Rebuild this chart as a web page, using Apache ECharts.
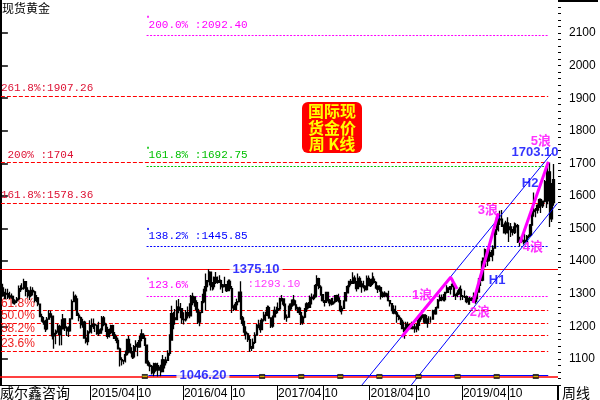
<!DOCTYPE html>
<html><head><meta charset="utf-8">
<script src="https://cdn.jsdelivr.net/npm/echarts@6/dist/echarts.min.js"></script>
<style>html,body{margin:0;padding:0;background:#fff}#c{width:600px;height:400px}</style>
</head><body><div id="c"></div>
<script>
// ---------- DATA ----------
const firstWeekFriday = [2014, 4, 11];   // weekly bars, dated by Friday
const weekSlots = 314;                   // category slots on the x axis
// weekly OHLC rows: [open, close, low, high]
const ohlc = [
// 2014
[1297,1318,1291,1333],[1318,1294,1291,1331],[1294,1301,1283,1306],[1301,1300,1284,1315],[1300,1290,1284,1315],
[1290,1293,1284,1306],[1293,1291,1285,1301],[1291,1272,1268,1294],[1272,1278,1266,1283],[1278,1284,1272,1290],
[1284,1316,1280,1325],[1316,1316,1305,1326],[1316,1317,1311,1332],[1317,1337,1312,1346],[1337,1310,1292,1339],
[1310,1307,1288,1320],[1307,1294,1281,1311],[1294,1310,1289,1322],[1310,1306,1295,1320],[1306,1280,1273,1309],
[1280,1287,1274,1296],[1287,1268,1262,1290],[1268,1230,1228,1270],[1230,1216,1214,1239],[1216,1213,1205,1229],
[1213,1192,1183,1220],[1192,1222,1188,1229],[1222,1238,1222,1250],[1238,1231,1226,1248],[1231,1171,1160,1232],
[1171,1178,1131,1178],[1178,1185,1145,1190],[1185,1200,1180,1208],[1200,1175,1141,1205],[1175,1192,1142,1222],
[1192,1223,1191,1238],[1223,1195,1186,1225],[1195,1195,1170,1200],
// 2015
[1195,1186,1167,1200],[1186,1223,1185,1225],[1223,1276,1223,1282],[1276,1292,1276,1307],[1292,1283,1250,1298],
[1283,1234,1232,1286],[1234,1227,1216,1242],[1227,1205,1193,1230],[1205,1213,1196,1223],[1213,1164,1163,1217],
[1164,1153,1147,1177],[1153,1183,1142,1188],[1183,1199,1178,1219],[1199,1202,1178,1224],[1202,1206,1192,1224],
[1206,1204,1183,1209],[1204,1178,1174,1206],[1178,1179,1170,1214],[1179,1189,1177,1194],[1189,1226,1182,1232],
[1226,1205,1200,1232],[1205,1190,1183,1211],[1190,1169,1162,1199],[1169,1181,1166,1193],[1181,1202,1176,1205],
[1202,1174,1170,1205],[1174,1163,1161,1183],[1163,1157,1148,1170],[1157,1131,1130,1165],[1131,1098,1077,1135],
[1098,1094,1080,1105],[1094,1094,1084,1097],[1094,1113,1089,1126],[1113,1160,1110,1162],[1160,1134,1117,1170],
[1134,1121,1117,1147],[1121,1106,1100,1124],[1106,1138,1101,1143],[1138,1145,1123,1157],[1145,1137,1108,1152],
[1137,1156,1134,1170],[1156,1177,1155,1191],[1177,1163,1161,1178],[1163,1142,1140,1174],[1142,1088,1085,1142],
[1088,1081,1077,1095],[1081,1077,1062,1087],[1077,1057,1052,1081],[1057,1085,1046.5,1088],[1085,1075,1061,1088],
[1075,1066,1046.2,1088],[1066,1075,1066,1081],[1075,1061,1047,1082],
// 2016
[1061,1097,1061,1112],[1097,1089,1071,1099],[1089,1096,1080,1107],[1096,1117,1096,1127],[1117,1158,1110,1176],
[1158,1239,1158,1263],[1239,1226,1191,1244],[1226,1221,1205,1253],[1221,1259,1219,1280],[1259,1250,1240,1284],
[1250,1254,1225,1272],[1254,1221,1208,1255],[1221,1220,1206,1243],[1220,1242,1215,1250],[1242,1234,1224,1261],
[1234,1232,1225,1271],[1232,1292,1230,1296],[1292,1290,1265,1303],[1290,1273,1260,1292],[1273,1252,1242,1280],
[1252,1213,1207,1253],[1213,1243,1200,1246],[1243,1275,1240,1278],[1275,1298,1271,1315],[1298,1322,1250,1362],
[1322,1340,1307,1340],[1340,1366,1335,1375.1],[1366,1327,1310,1366],[1327,1322,1310,1336],[1322,1350,1313,1353],
[1350,1335,1330,1367],[1335,1336,1331,1353],[1336,1340,1333,1357],[1340,1321,1313,1344],[1321,1327,1302,1330],
[1327,1328,1320,1352],[1328,1310,1305,1330],[1310,1338,1310,1344],[1338,1316,1314,1344],[1316,1257,1241,1324],
[1257,1252,1247,1265],[1252,1267,1250,1275],[1267,1276,1262,1285],[1276,1305,1273,1307],[1305,1226,1220,1338],
[1226,1209,1202,1232],[1209,1182,1171,1217],[1182,1177,1160,1200],[1177,1159,1152,1180],[1159,1134,1122,1172],
[1134,1133,1124,1140],[1133,1151,1131,1163],
// 2017
[1151,1173,1146,1182],[1173,1197,1171,1207],[1197,1204,1194,1220],[1204,1190,1180,1220],[1190,1220,1188,1225],
[1220,1234,1215,1245],[1234,1238,1216,1245],[1238,1257,1231,1264],[1257,1226,1223,1263],[1226,1201,1195,1228],
[1201,1229,1196,1233],[1229,1249,1228,1261],[1249,1249,1238,1260],[1249,1254,1240,1273],[1254,1285,1250,1288],
[1285,1284,1276,1296],[1284,1268,1262,1285],[1268,1227,1220,1270],[1227,1228,1214,1236],[1228,1254,1226,1264],
[1254,1268,1248,1271],[1268,1280,1260,1283],[1280,1266,1263,1296],[1266,1254,1250,1280],[1254,1256,1241,1260],
[1256,1242,1235,1260],[1242,1212,1204,1245],[1212,1228,1205,1233],[1228,1254,1225,1256],[1254,1269,1244,1274],
[1269,1258,1255,1275],[1258,1289,1257,1295],[1289,1285,1267,1301],[1285,1291,1280,1298],[1291,1325,1288,1330],
[1325,1346,1323,1357],[1346,1320,1314,1349],[1320,1297,1294,1326],[1297,1279,1276,1298],[1279,1274,1261,1280],
[1274,1304,1274,1306],[1304,1280,1276,1306],[1280,1272,1262,1284],[1272,1269,1264,1287],[1269,1275,1266,1288],
[1275,1294,1270,1296],[1294,1287,1275,1297],[1287,1279,1273,1300],[1279,1248,1243,1280],[1248,1255,1236,1263],
[1255,1278,1254,1280],[1278,1303,1277,1304],
// 2018
[1303,1322,1302,1326],[1322,1338,1313,1340],[1338,1332,1325,1345],[1332,1348,1330,1366],[1348,1333,1331,1356],
[1333,1316,1307,1339],[1316,1347,1314,1362],[1347,1330,1320,1354],[1330,1322,1303,1340],[1322,1323,1316,1340],
[1323,1313,1307,1326],[1313,1347,1310,1356],[1347,1325,1323,1356],[1325,1332,1321,1345],[1332,1345,1327,1365],
[1345,1335,1331,1354],[1335,1323,1315,1339],[1323,1314,1302,1326],[1314,1319,1306,1326],[1319,1292,1282,1322],
[1292,1302,1288,1307],[1302,1294,1289,1308],[1294,1299,1289,1303],[1299,1279,1276,1309],[1279,1270,1261,1280],
[1270,1252,1246,1272],[1252,1241,1237,1265],[1241,1241,1236,1264],[1241,1231,1211,1247],[1231,1223,1219,1236],
[1223,1213,1204,1228],[1213,1193,1191,1220],[1193,1184,1162,1197],[1184,1206,1183,1214],[1206,1201,1195,1214],
[1201,1197,1191,1207],[1197,1193,1191,1214],[1193,1198,1193,1211],[1198,1192,1180,1207],[1192,1203,1182,1208],
[1203,1218,1187,1233],[1218,1227,1214,1234],[1227,1235,1220,1243],[1235,1233,1211,1237],[1233,1210,1208,1237],
[1210,1222,1196,1225],[1222,1222,1213,1231],[1222,1222,1211,1230],[1222,1248,1221,1251],[1248,1238,1236,1252],
[1238,1257,1236,1261],[1257,1280,1256,1284],
// 2019
[1280,1286,1276,1298],[1286,1288,1277,1298],[1288,1282,1277,1299],[1282,1304,1276,1305],[1304,1318,1301,1326],
[1318,1314,1302,1320],[1314,1322,1298,1323],[1322,1329,1320,1346],[1329,1294,1290,1334],[1294,1298,1281,1300],
[1298,1302,1289,1311],[1302,1313,1298,1320],[1313,1292,1280,1325],[1292,1291,1281,1296],[1291,1291,1287,1310],
[1291,1276,1271,1295],[1276,1286,1266,1288],[1286,1280,1266,1290],[1280,1286,1279,1289],[1286,1277,1273,1304],
[1277,1285,1269,1287],[1285,1305,1274,1311],[1305,1341,1305,1348],[1341,1342,1324,1358],[1342,1399,1338,1411],
[1399,1409,1382,1439],[1409,1400,1381,1437],[1400,1415,1385,1425],[1415,1426,1400,1453],[1426,1419,1412,1434],
[1419,1440,1400,1449],[1440,1497,1440,1510],[1497,1513,1480,1535],[1513,1527,1491,1531],[1527,1529,1520,1555],
[1529,1507,1506,1557],[1507,1488,1485,1513],[1488,1517,1482,1524],[1517,1497,1485,1535],[1497,1505,1459,1519],
[1505,1489,1474,1517],[1489,1490,1479,1499],[1490,1505,1483,1519],[1505,1509,1486,1516],[1509,1459,1456,1514],
[1459,1468,1445,1475],[1468,1462,1456,1478],[1462,1464,1451,1466],[1464,1460,1456,1484],[1460,1476,1458,1480],
[1476,1479,1470,1482],[1479,1511,1476,1514],
// 2020
[1511,1552,1508,1553],[1552,1557,1536,1611],[1557,1557,1535,1563],[1557,1571,1546,1575],[1571,1589,1563,1592],
[1589,1570,1548,1592],[1570,1584,1563,1585],[1584,1643,1580,1649],[1643,1585,1563,1689],[1585,1674,1575,1692],
[1674,1530,1505,1703.1],[1530,1580,1520,1640],[1580,1650,1570,1698]
];
const yTickValues = [1100,1200,1300,1400,1500,1600,1700,1800,1900,2000,2100];
// Fibonacci set A (1046.20 -> 1375.10), red dashed
const fibAText  = ['261.8%:1907.26',' 200% :1704','161.8%:1578.36','61.8%','50.0%','38.2%','23.6%'];
const fibAValue = [1907.26, 1704, 1578.36, 1249.5, 1210.65, 1171.8, 1123.8];
// Fibonacci set B, dotted
const fibBText  = ['200.0% :2092.40','161.8% :1692.75','138.2% :1445.85','123.6%'];
const fibBValue = [2092.40, 1692.75, 1445.85, 1293.10];
const highLine = 1375.10, lowLine = 1046.20, topPrice = 1703.10;
// cycle markers on the 1046.20 line (week index)
const markerWeeks = [81,147,169,191,213,235,257,279,301];
// wave / channel drawing points [week index, price]
const wave1 = [[225.6,1168],[253.1,1350.5],[256.7,1314.6]];
const wave3 = [[265.7,1271.6],[279.9,1547]];
const wave5 = [[292.1,1455.7],[308.1,1705]];
const channelH2 = [[203.2,1020.2],[310.0,1731]];
const channelH1 = [[231.0,1020.2],[313.1,1577.5]];

// ---------- BUILD ----------
const categories = [];
(function(){
  let t = Date.UTC(firstWeekFriday[0], firstWeekFriday[1]-1, firstWeekFriday[2]);
  for (let i = 0; i < weekSlots; i++) {
    const d = new Date(t);
    categories.push(d.getUTCFullYear() + '/' + String(d.getUTCMonth()+1).padStart(2,'0') + '/' + String(d.getUTCDate()).padStart(2,'0'));
    t += 7*86400000;
  }
})();
function monthOf(i){ return categories[i].slice(5,7); }
function isMark(i){
  if (i < 40 || i > ohlc.length - 8) return false;
  const m = monthOf(i);
  return (m === '04' || m === '10') && monthOf(i-1) !== m;
}

const RED='#ff0000', MAG='#ff00ff', GRN='#00c000', BLU='#0000ff';
const MONO='"Liberation Mono","DejaVu Sans Mono",monospace';
const SANS='"Liberation Sans",Arial,sans-serif';
const CJK='"Liberation Sans","Noto Sans CJK SC",sans-serif';

const lastIdx = 308;
const mlData = [];
fibAValue.forEach((v,k)=>{
  const retr = k >= 3;
  mlData.push([{coord:[0,v], lineStyle:{color:RED,type:[4,2],width:1},
    label:{show:true, position:'insideStartTop', formatter:fibAText[k], color: retr ? '#ee2222' : '#dd1133',
      fontFamily: retr ? SANS : MONO, fontSize: retr ? 12 : 11, distance:[0, retr ? 1 : 2]}},
    {coord:[lastIdx,v]}]);
});
const fibBColor = [MAG, GRN, BLU, MAG];
fibBValue.forEach((v,k)=>{
  mlData.push([{coord:[82,v], lineStyle:{color:fibBColor[k],type:[2,1.5],width:1},
    label:{show:true, position:'insideStartTop', formatter:fibBText[k], color:fibBColor[k], fontFamily:MONO, fontSize:11, distance:[2,5]}},
    {coord:[lastIdx,v]}]);
});
mlData.push({yAxis:highLine, lineStyle:{color:RED,type:'solid',width:1.2}, label:{show:false}});
mlData.push({yAxis:lowLine, lineStyle:{color:RED,type:'solid',width:1.5}, label:{show:false}});
mlData.push([{coord:[83,lowLine+4], lineStyle:{color:BLU,type:'solid',width:1.2}, label:{show:false}},{coord:[lastIdx,lowLine+4]}]);

const labelItems = [
  {name:highLine.toFixed(2), value:[143.6, highLine], color:BLU, bold:true, bg:true},
  {name:lowLine.toFixed(2), value:[113.7, lowLine+3], color:BLU, bold:true, bg:true},
  {name:topPrice.toFixed(2), value:[300.6, 1735], color:BLU, bold:true},
  {name:':' + fibBValue[3].toFixed(2), value:[153.7, 1330], color:MAG, mono:true},
  {name:'1浪', value:[237.0,1296], color:MAG, bold:true},
  {name:'2浪', value:[269.6,1244], color:MAG, bold:true},
  {name:'3浪', value:[274.1,1557], color:MAG, bold:true},
  {name:'4浪', value:[299.4,1443], color:MAG, bold:true},
  {name:'5浪', value:[303.9,1766], color:MAG, bold:true},
  {name:'H2', value:[297.8,1640], color:BLU, bold:true},
  {name:'H1', value:[279.2,1342], color:BLU, bold:true}
].map(o=>({name:o.name, value:o.value, label:{show:true, position:'inside', formatter:'{b}', color:o.color,
  fontFamily: o.mono ? MONO : CJK, fontSize: o.mono ? 11 : 13, fontWeight: o.bold ? 'bold' : 'normal',
  backgroundColor: o.bg ? '#fff' : 'transparent', padding: o.bg ? [0,3] : 0}}));

function seg(data, color, width, z){
  return {type:'line', xAxisIndex:1, yAxisIndex:0, data:data, showSymbol:false, symbol:'none', silent:true,
    lineStyle:{color:color, width:width}, z:z, animation:false, clip:true};
}

const option = {
  animation:false,
  textStyle:{fontFamily:SANS},
  grid:{left:0, right:42, top:0, bottom:15, containLabel:false},
  xAxis:[
    {type:'category', data:categories, boundaryGap:true, gridIndex:0,
     axisLine:{show:true, lineStyle:{color:'#000', width:1}},
     axisTick:{show:true, interval:(i)=>isMark(i), length:15, lineStyle:{color:'#000'}},
     axisLabel:{show:true, interval:(i)=>isMark(i), align:'left', margin:3, fontSize:12, color:'#000', fontFamily:SANS,
       formatter:(v)=> v.slice(5,7)==='04' ? v.slice(0,7) : v.slice(5,7)},
     splitLine:{show:false}},
    {type:'value', min:-0.5, max:weekSlots-0.5, show:false, gridIndex:0}
  ],
  yAxis:[
    {type:'value', position:'right', min:1020, max:2201.4, scale:true,
     axisLine:{show:true, lineStyle:{color:'#000', width:2}},
     axisTick:{show:true, customValues:yTickValues, length:7, lineStyle:{color:'#000', width:1.5}},
     axisLabel:{show:true, customValues:yTickValues, margin:11, fontSize:12, color:'#000', fontFamily:SANS,
       formatter:(v)=>String(Math.round(v))},
     splitLine:{show:false}},
    {type:'value', position:'right', min:1020, max:2201.4, interval:20,
     axisLine:{show:false}, axisTick:{show:true, length:3, lineStyle:{color:'#000'}},
     axisLabel:{show:false}, splitLine:{show:false}}
  ],
  series:[
    {type:'candlestick', name:'现货黄金', data:ohlc, xAxisIndex:0, yAxisIndex:0, barWidth:1.8, z:3,
     itemStyle:{color:'#000', color0:'#000', borderColor:'#000', borderColor0:'#000', borderWidth:1.3},
     markLine:{symbol:['none','none'], silent:true, animation:false, data:mlData, z:2}},
    seg(channelH2, BLU, 1, 4),
    seg(channelH1, BLU, 1, 4),
    seg(wave1, MAG, 3, 5),
    seg(wave3, MAG, 3, 5),
    seg(wave5, MAG, 3, 5),
    {type:'scatter', xAxisIndex:1, yAxisIndex:0, silent:true, z:6, symbol:'rect', symbolSize:[6,5],
     itemStyle:{color:'#000'}, data:markerWeeks.map(w=>[w, lowLine])},
    {type:'scatter', xAxisIndex:1, yAxisIndex:0, silent:true, z:7, symbol:'rect', symbolSize:[5,1.5],
     itemStyle:{color:'#ffd200'}, data:markerWeeks.map(w=>[w, lowLine])},
    {type:'scatter', xAxisIndex:1, yAxisIndex:0, silent:true, z:6, symbol:'rect', symbolSize:2,
     data:[{value:[82.8,2150],itemStyle:{color:MAG}},{value:[82.8,1748],itemStyle:{color:GRN}},
           {value:[82.8,1499],itemStyle:{color:BLU}},{value:[82.8,1347],itemStyle:{color:MAG}}]},
    {type:'scatter', xAxisIndex:1, yAxisIndex:0, silent:true, z:20, symbolSize:0, data:labelItems}
  ],
  graphic:[
    {type:'text', left:2, top:2, style:{text:'现货黄金', font:'12px "Noto Sans CJK SC"', fill:'#000'}},
    {type:'text', left:0, top:386, style:{text:'威尔鑫咨询', font:'14px "Noto Sans CJK SC"', fill:'#000'}},
    {type:'text', left:562, top:386, style:{text:'周线', font:'14px "Noto Sans CJK SC"', fill:'#000'}},
    {type:'line', shape:{x1:558, y1:385, x2:558, y2:400}, style:{stroke:'#000', lineWidth:2}},
    {type:'line', shape:{x1:558, y1:1, x2:598, y2:1}, style:{stroke:'#000', lineWidth:2}},
    {type:'rect', shape:{x:302, y:102, width:60, height:51, r:6}, style:{fill:'#ff0000'}, z:10},
    {type:'text', x:332, y:127.5, z:11, style:{text:'国际现\n货金价\n周 K线', align:'center', verticalAlign:'middle',
      font:'bold 16px "Noto Sans CJK SC"', lineHeight:16.5, fill:'#ffff00'}}
  ]
};
const chart = echarts.init(document.getElementById('c'));
chart.setOption(option);
</script></body></html>
